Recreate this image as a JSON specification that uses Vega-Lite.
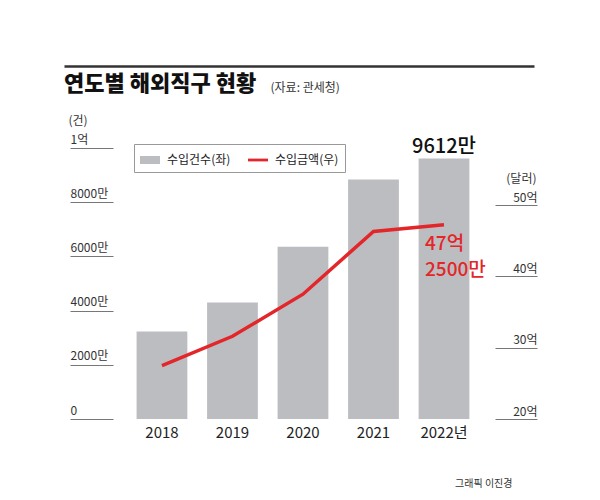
{
  "$schema": "https://vega.github.io/schema/vega-lite/v6.json",
  "width": 470,
  "height": 271,
  "autosize": "none",
  "padding": {"left": 64, "top": 148, "right": 66, "bottom": 81},
  "background": "white",
  "title": {
    "text": "연도별 해외직구 현황",
    "anchor": "start",
    "frame": "group",
    "fontSize": 22,
    "fontWeight": 900,
    "color": "#111111",
    "font": "Noto Sans CJK KR",
    "offset": -30
  },
  "data": {
    "values": [
      {"year": "2018", "count": 3225, "amount": 27.5},
      {"year": "2019", "count": 4299, "amount": 31.6},
      {"year": "2020", "count": 6357, "amount": 37.5},
      {"year": "2021", "count": 8838, "amount": 46.3},
      {"year": "2022", "count": 9612, "amount": 47.25}
    ]
  },
  "layer": [
    {
      "encoding": {
        "x": {
          "field": "year",
          "type": "ordinal",
          "scale": {"paddingInner": 0.28, "paddingOuter": 0.973, "align": 0.529},
          "axis": {
            "orient": "bottom",
            "domain": false,
            "ticks": false,
            "labelAngle": 0,
            "labelFontSize": 15,
            "labelColor": "#222222",
            "labelPadding": 6,
            "labelExpr": "datum.value == '2022' ? '2022년' : datum.value",
            "title": "그래픽 이진경",
            "titleFontSize": 10,
            "titleFontWeight": "normal",
            "titleColor": "#333333",
            "titleAlign": "right",
            "titleBaseline": "middle",
            "titleX": 448,
            "titleY": 64
          }
        },
        "y": {
          "field": "count",
          "type": "quantitative",
          "scale": {"domain": [0, 10000], "nice": false},
          "axis": {
            "orient": "left",
            "offset": -49,
            "values": [0, 2000, 4000, 6000, 8000, 10000],
            "labelExpr": "datum.value == 0 ? '0' : (datum.value == 10000 ? '1억' : datum.value + '만')",
            "domain": false,
            "grid": false,
            "tickSize": 43,
            "tickColor": "#777777",
            "tickWidth": 1,
            "labelAlign": "left",
            "labelBaseline": "alphabetic",
            "labelOffset": -5,
            "labelPadding": 0,
            "labelFontSize": 12,
            "labelColor": "#333333",
            "title": "(건)",
            "titleAngle": 0,
            "titleFontSize": 12,
            "titleFontWeight": "normal",
            "titleColor": "#333333",
            "titleAlign": "left",
            "titleBaseline": "middle",
            "titleX": -45,
            "titleY": -28
          }
        }
      },
      "layer": [
        {
          "mark": {"type": "bar"},
          "encoding": {
            "color": {
              "datum": "수입건수(좌)",
              "type": "nominal",
              "scale": {"domain": ["수입건수(좌)", "수입금액(우)"], "range": ["#bcbdc1", "#e3262a"]},
              "legend": {
                "orient": "none",
                "legendX": 70,
                "legendY": -4,
                "direction": "horizontal",
                "title": null,
                "strokeColor": "#999999",
                "fillColor": "white",
                "padding": 6,
                "labelFontSize": 12,
                "labelColor": "#222222",
                "labelOffset": 7,
                "columnPadding": 17,
                "symbolSize": 400,
                "symbolStrokeWidth": 0,
                "symbolType": {"expr": "datum.value == '수입건수(좌)' ? 'M-1,-0.4H1V0.4H-1Z' : 'M-1,-0.14H1V0.14H-1Z'"},
                "symbolFillColor": {"expr": "datum.value == '수입건수(좌)' ? '#bcbdc1' : '#e3262a'"}
              }
            }
          }
        },
        {
          "transform": [{"filter": "datum.year == '2022'"}],
          "mark": {"type": "text", "fontSize": 20, "fontWeight": 500, "color": "#111111", "baseline": "alphabetic", "dy": -6},
          "encoding": {"text": {"value": "9612만"}}
        }
      ]
    },
    {
      "encoding": {
        "x": {
          "field": "year",
          "type": "ordinal",
          "axis": {
            "orient": "top",
            "offset": 82,
            "labels": false,
            "ticks": false,
            "domain": true,
            "domainColor": "#333333",
            "domainWidth": 2.5,
            "title": "(자료: 관세청)",
            "titleFontSize": 12,
            "titleFontWeight": "normal",
            "titleColor": "#333333",
            "titleAlign": "left",
            "titleBaseline": "middle",
            "titleX": 206,
            "titleY": 21
          }
        },
        "y": {
          "field": "amount",
          "type": "quantitative",
          "scale": {"domain": [20, 58], "nice": false, "zero": false},
          "axis": {
            "orient": "right",
            "offset": -39,
            "values": [20, 30, 40, 50],
            "labelExpr": "datum.value + '억'",
            "domain": false,
            "grid": false,
            "tickSize": 42,
            "tickColor": "#777777",
            "tickWidth": 1,
            "labelAlign": "right",
            "labelBaseline": "alphabetic",
            "labelOffset": -4,
            "labelPadding": 0,
            "labelFontSize": 12,
            "labelColor": "#333333",
            "title": "(달러)",
            "titleAngle": 0,
            "titleFontSize": 12,
            "titleFontWeight": "normal",
            "titleColor": "#333333",
            "titleAlign": "right",
            "titleBaseline": "middle",
            "titleX": 41,
            "titleY": 30
          }
        }
      },
      "layer": [
        {
          "mark": {"type": "line", "strokeWidth": 3.5},
          "encoding": {"color": {"datum": "수입금액(우)", "type": "nominal"}}
        },
        {
          "transform": [{"filter": "datum.year == '2022'"}],
          "mark": {"type": "text", "fontSize": 19, "fontWeight": 500, "color": "#e3262a", "align": "left", "baseline": "alphabetic", "dx": -19, "dy": 25, "lineHeight": 26},
          "encoding": {"text": {"value": ["47억", "2500만"]}}
        }
      ]
    }
  ],
  "resolve": {"scale": {"y": "independent"}, "axis": {"x": "independent"}},
  "config": {
    "font": "Noto Sans CJK KR",
    "view": {"stroke": null},
    "axis": {"grid": false}
  }
}
